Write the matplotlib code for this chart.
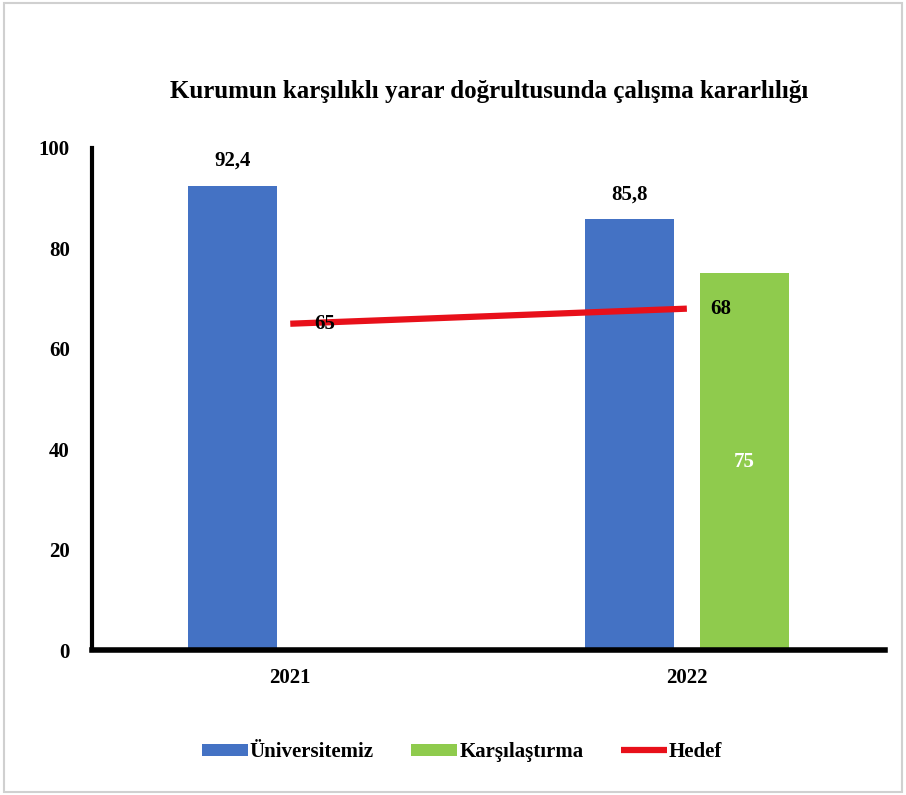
import numpy as np
import matplotlib.pyplot as plt
import matplotlib as mpl
from matplotlib.patches import Rectangle

mpl.rcParams.update({"font.family": "Liberation Serif", "font.weight": "bold"})

years = ["2021", "2022"]
universite = [92.4, 85.8]
karsilastirma = [np.nan, 75.0]
hedef = [65, 68]
uni_labels = ["92,4", "85,8"]

BLUE = "#4472C4"; GREEN = "#8FCB4D"; RED = "#E8101A"

fig = plt.figure(figsize=(9.06, 7.95), dpi=100)
ax = fig.add_axes([0.1015, 0.182, 0.8755, 0.632])

x = np.arange(len(years))
w = 0.225
off = 0.145
b1 = ax.bar(x - off, universite, w, color=BLUE, label="Üniversitemiz", zorder=2)
b2 = ax.bar(x + off, karsilastirma, w, color=GREEN, label="Karşılaştırma", zorder=2)
l1, = ax.plot(x, hedef, color=RED, lw=4.5, label="Hedef", zorder=3, solid_capstyle="butt")

for i, v in enumerate(universite):
    ax.text(x[i] - off, v + 3, uni_labels[i], ha="center", va="bottom", fontsize=15, fontweight="bold")
for i, v in enumerate(karsilastirma):
    if not np.isnan(v):
        ax.text(x[i] + off, v / 2, f"{v:.0f}", ha="center", va="center", fontsize=15,
                fontweight="bold", color="white")
for i, v in enumerate(hedef):
    ax.text(x[i] + 0.06, v, f"{v}", ha="left", va="center", fontsize=15, fontweight="bold", zorder=4)

ax.set_xlim(-0.5, 1.5)
ax.set_ylim(0, 100)
ax.set_yticks(range(0, 101, 20))
ax.set_xticks(x)
ax.set_xticklabels(years)
ax.tick_params(axis="both", length=0, labelsize=15, pad=13)
ax.tick_params(axis="y", pad=16)
for s in ["top", "right"]:
    ax.spines[s].set_visible(False)
ax.spines["left"].set_linewidth(3)
ax.spines["bottom"].set_linewidth(4)

fig.text(0.54, 0.885, "Kurumun karşılıklı yarar doğrultusunda çalışma kararlılığı",
         ha="center", va="center", fontsize=18, fontweight="bold")

fig.legend([b1, b2, l1], ["Üniversitemiz", "Karşılaştırma", "Hedef"],
           loc="center", bbox_to_anchor=(0.51, 0.054), ncol=3, frameon=False,
           fontsize=15, handlelength=2.2, handletextpad=0.1, columnspacing=1.8,
           handleheight=0.5)

fig.patches.append(Rectangle((0.004, 0.004), 0.992, 0.992, transform=fig.transFigure,
                             fill=False, edgecolor="#D0D0D0", lw=1.5))

fig.savefig("out.png", dpi=100, facecolor="white")
